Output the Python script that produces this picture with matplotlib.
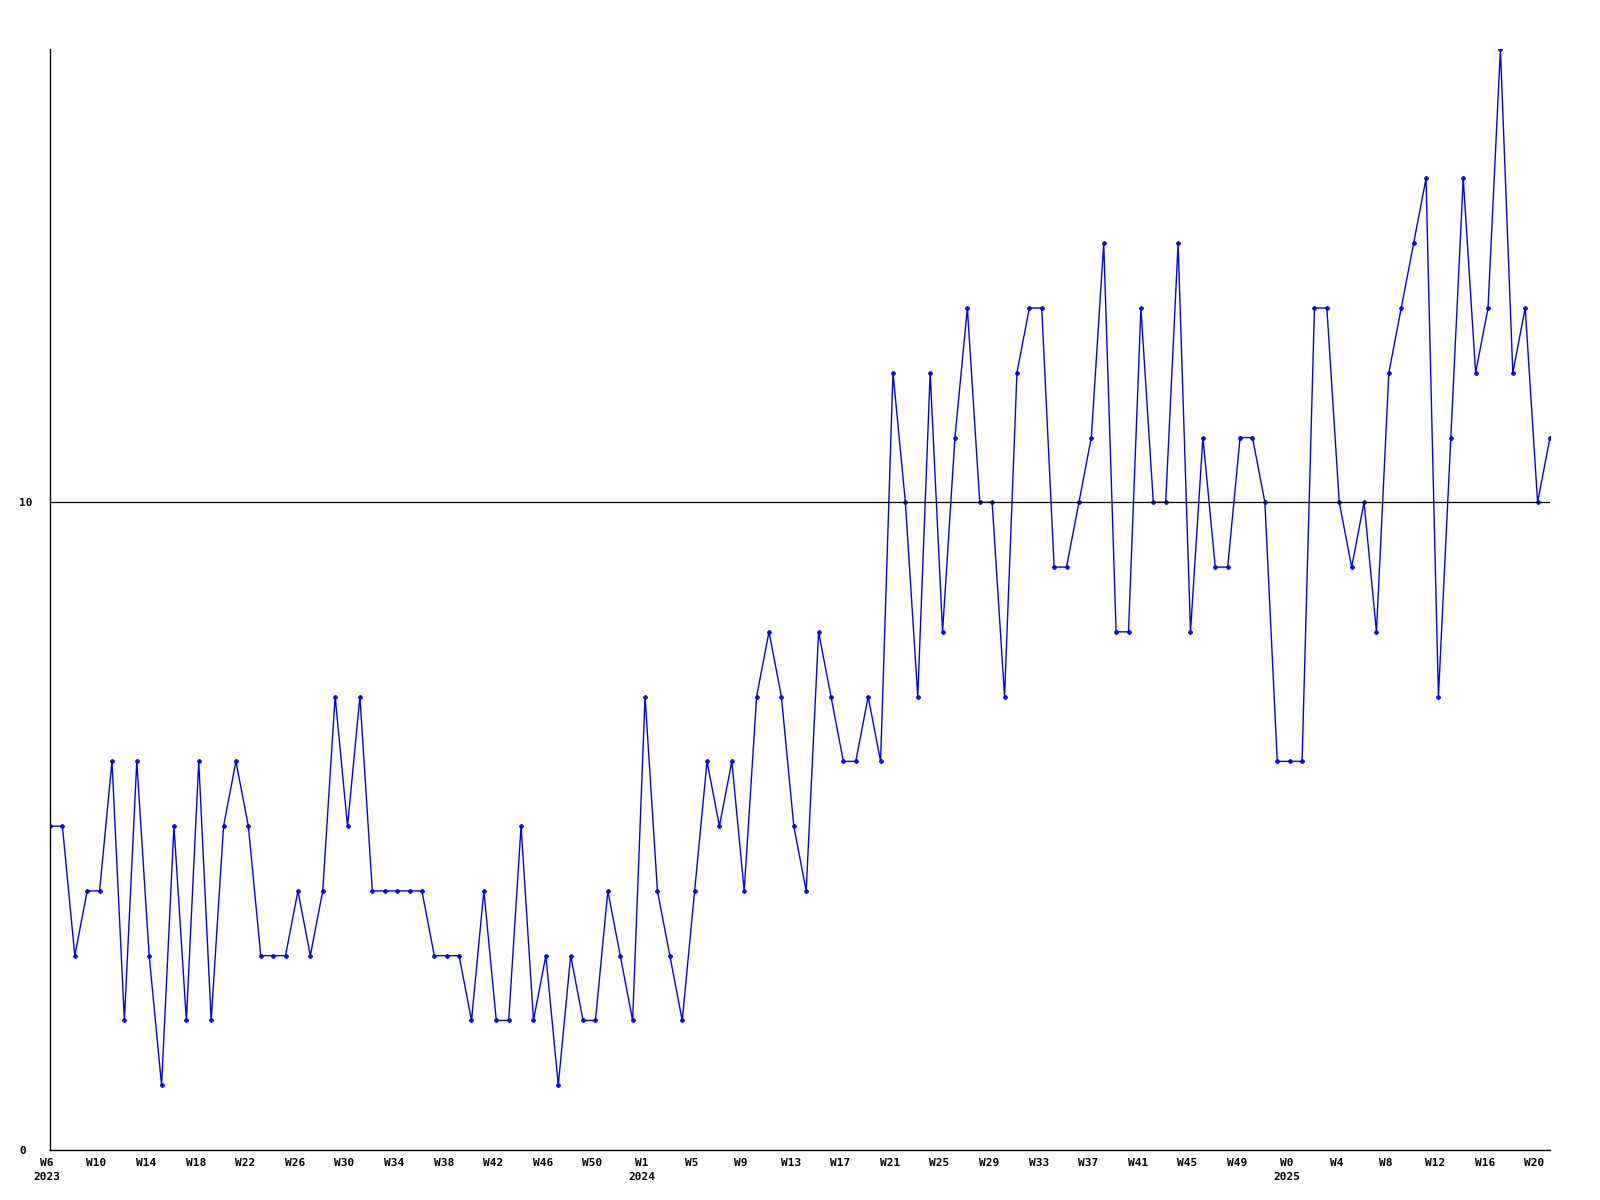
import matplotlib
matplotlib.use('Agg')
import matplotlib.pyplot as plt
import matplotlib.transforms as mtransforms

# weekly counts, 2023 W6 .. 2025 W21
counts = [5, 5, 3, 4, 4, 6, 2, 6, 3, 1,
          5, 2, 6, 2, 5, 6, 5, 3, 3, 3,
          4, 3, 4, 7, 5, 7, 4, 4, 4, 4,
          4, 3, 3, 3, 2, 4, 2, 2, 5, 2,
          3, 1, 3, 2, 2, 4, 3, 2, 7, 4,
          3, 2, 4, 6, 5, 6, 4, 7, 8, 7,
          5, 4, 8, 7, 6, 6, 7, 6, 12, 10,
          7, 12, 8, 11, 13, 10, 10, 7, 12, 13,
          13, 9, 9, 10, 11, 14, 8, 8, 13, 10,
          10, 14, 8, 11, 9, 9, 11, 11, 10, 6,
          6, 6, 13, 13, 10, 9, 10, 8, 12, 13,
          14, 15, 7, 11, 15, 12, 13, 17, 12, 13,
          10, 11]

week_labels = ['W6', 'W10', 'W14', 'W18', 'W22', 'W26', 'W30', 'W34', 'W38',
               'W42', 'W46', 'W50', 'W1', 'W5', 'W9', 'W13', 'W17', 'W21',
               'W25', 'W29', 'W33', 'W37', 'W41', 'W45', 'W49', 'W0', 'W4',
               'W8', 'W12', 'W16', 'W20']
year_labels = {0: '2023', 48: '2024', 100: '2025'}

y_ticks = [0, 10]

x = list(range(len(counts)))
tick_pos = list(range(0, 4 * len(week_labels), 4))
tick_txt = []
for p, w in zip(tick_pos, week_labels):
    if p in year_labels:
        tick_txt.append(w + '\n' + year_labels[p])
    else:
        tick_txt.append(w)

fig = plt.figure(figsize=(16, 12), dpi=100)
ax = fig.add_axes([0.03125, 0.0417, 0.9375, 0.9175])

ax.plot(x, counts, color='#0000ff', lw=1.0, marker='P', markersize=3.2,
        markeredgewidth=0.4)
ax.axhline(10, color='black', lw=0.9)

ax.set_xlim(0, len(counts) - 1)
ax.set_ylim(0, 17)

ax.spines['top'].set_visible(False)
ax.spines['right'].set_visible(False)
ax.spines['left'].set_linewidth(1.0)
ax.spines['bottom'].set_linewidth(1.0)

ax.set_xticks(tick_pos)
ax.set_xticklabels(tick_txt, fontfamily='DejaVu Sans Mono', fontweight='bold',
                   fontsize=8, linespacing=1.45, va='top')
ax.set_yticks(y_ticks)
ax.set_yticklabels([str(v) for v in y_ticks], fontfamily='DejaVu Sans Mono',
                   fontweight='bold', fontsize=8, ha='left')
ax.tick_params(axis='x', length=0, pad=6)
ax.tick_params(axis='y', length=0, pad=22)

# labels sit a few pixels left of their tick in the original
shift = mtransforms.ScaledTranslation(-3 / 100, 0, fig.dpi_scale_trans)
for lbl in ax.get_xticklabels():
    lbl.set_transform(lbl.get_transform() + shift)

fig.savefig('out.png', dpi=100)
